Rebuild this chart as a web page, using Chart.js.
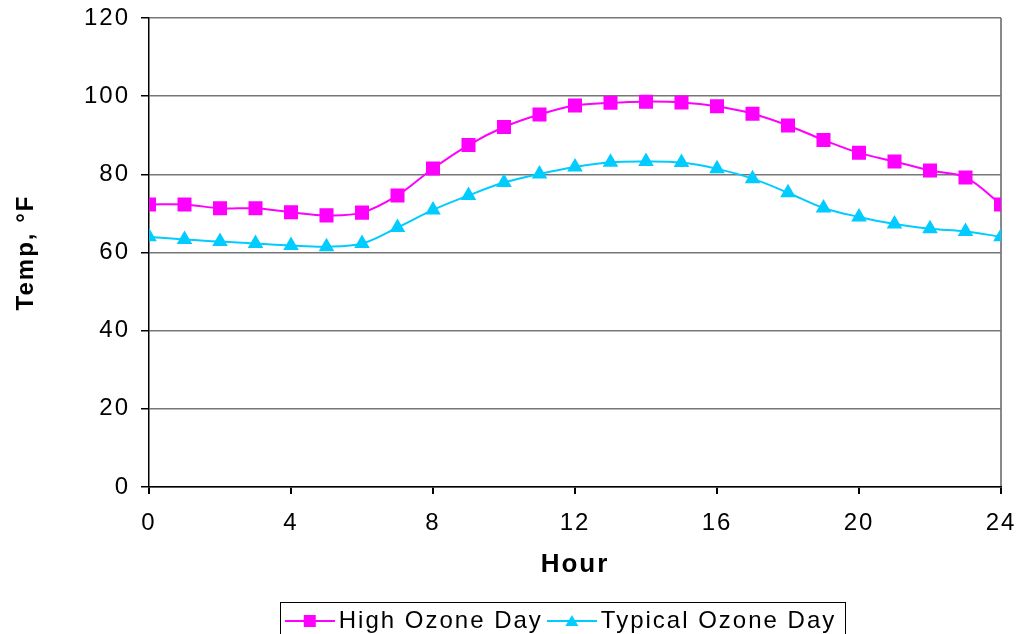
<!DOCTYPE html>
<html lang="en">
<head>
<meta charset="UTF-8" />
<title>Hourly Temperature</title>
<script src="https://cdn.jsdelivr.net/npm/chart.js"></script>
<style>
    html, body { margin: 0; padding: 0; background: #fff; }
    #wrap { width: 1016px; height: 634px; }
</style>
</head>
<body>
<div id="wrap"><canvas id="tempChart" width="1016" height="634"></canvas></div>
<script>
    const hours = [0, 1, 2, 3, 4, 5, 6, 7, 8, 9, 10, 11, 12, 13, 14, 15, 16, 17, 18, 19, 20, 21, 22, 23, 24];
    const highOzone = [72.3, 72.3, 71.3, 71.3, 70.3, 69.5, 70.2, 74.6, 81.5, 87.5, 92.1, 95.3, 97.6, 98.3, 98.6, 98.4, 97.4, 95.5, 92.5, 88.8, 85.5, 83.3, 81.0, 79.2, 72.3];
    const typicalOzone = [64.0, 63.3, 62.8, 62.3, 61.8, 61.5, 62.3, 66.4, 70.9, 74.6, 77.9, 80.1, 81.9, 83.1, 83.3, 83.0, 81.4, 78.9, 75.3, 71.4, 69.1, 67.3, 66.1, 65.4, 64.0];
    const yTicks = [0, 20, 40, 60, 80, 100, 120];

    const pink = '#ff00ff';
    const cyan = '#00ccff';
    const font = 'Liberation Sans, Arial, sans-serif';

    function legendIcon(color, style) {
        const c = document.createElement('canvas');
        c.width = 50; c.height = 16;
        const g = c.getContext('2d');
        g.strokeStyle = color; g.fillStyle = color; g.lineWidth = 2;
        g.beginPath(); g.moveTo(0, 8); g.lineTo(50, 8); g.stroke();
        g.beginPath();
        if (style === 'rect') {
            g.rect(19, 2, 12, 12);
        } else {
            g.moveTo(25, 2); g.lineTo(31.5, 13); g.lineTo(18.5, 13); g.closePath();
        }
        g.fill();
        return c;
    }

    // the original text is slightly letter-spaced
    const spacing = {
        id: 'spacing',
        beforeUpdate(chart) { chart.ctx.letterSpacing = '2px'; },
        beforeDraw(chart) { chart.ctx.letterSpacing = '2px'; }
    };

    // legend sits under the plot area and a bit lower than chart.js puts it
    const legendShift = {
        id: 'legendShift',
        afterLayout(chart) {
            const l = chart.legend;
            l.left += 64; l.right += 64;
            l.top += 9; l.bottom += 9;
        }
    };

    const legendBorder = {
        id: 'legendBorder',
        afterDraw(chart) {
            const boxes = chart.legend.legendHitBoxes;
            if (!boxes || !boxes.length) return;
            const left = Math.min(...boxes.map(b => b.left)) - 13;
            const right = Math.max(...boxes.map(b => b.left + b.width)) + 8;
            const mid = boxes[0].top + boxes[0].height / 2;
            const g = chart.ctx;
            g.save();
            g.strokeStyle = '#000';
            g.lineWidth = 1;
            g.strokeRect(Math.round(left) + 0.5, Math.round(mid - 19) + 0.5, Math.round(right - left), 60);
            g.restore();
        }
    };

    const ctx = document.getElementById('tempChart').getContext('2d');
    new Chart(ctx, {
        type: 'line',
        data: {
            datasets: [
                {
                    label: 'High Ozone Day',
                    data: hours.map((h, i) => ({ x: h, y: highOzone[i] })),
                    borderColor: pink, backgroundColor: pink,
                    borderWidth: 2, pointStyle: 'rect', pointRadius: 8.5,
                    tension: 0.35, icon: legendIcon(pink, 'rect')
                },
                {
                    label: 'Typical Ozone Day',
                    data: hours.map((h, i) => ({ x: h, y: typicalOzone[i] })),
                    borderColor: cyan, backgroundColor: cyan,
                    borderWidth: 2, pointStyle: 'triangle', pointRadius: 7,
                    tension: 0.35, icon: legendIcon(cyan, 'triangle')
                }
            ]
        },
        options: {
            responsive: false,
            animation: false,
            layout: { padding: { top: 18, right: 15, left: 0, bottom: 0 } },
            plugins: {
                tooltip: { enabled: false },
                legend: {
                    position: 'bottom',
                    labels: {
                        usePointStyle: true,
                        pointStyleWidth: 34,
                        color: '#000',
                        font: { family: font, size: 24 },
                        padding: 12,
                        generateLabels(chart) {
                            return chart.data.datasets.map((d, i) => ({
                                text: d.label, pointStyle: d.icon, fillStyle: d.borderColor,
                                strokeStyle: d.borderColor, datasetIndex: i, lineWidth: 0
                            }));
                        }
                    }
                }
            },
            scales: {
                x: {
                    type: 'linear', min: 0, max: 24,
                    afterFit: s => { s.paddingLeft = 0; s.paddingRight = 0; s.height = 101; },
                    ticks: { stepSize: 4, color: '#000', padding: 15, font: { family: font, size: 24 } },
                    grid: {
                        color: c => c.tick && c.tick.value === 24 ? '#888' : 'rgba(0,0,0,0)',
                        tickColor: '#000', tickLength: 7, lineWidth: 2
                    },
                    border: { color: '#000', width: 1.5 },
                    title: {
                        display: true, text: 'Hour', color: '#000',
                        font: { family: font, size: 26, weight: 'bold' },
                        padding: { top: 0, bottom: 8 }
                    }
                },
                y: {
                    min: 0, max: 120,
                    afterBuildTicks: axis => { axis.ticks = yTicks.map(v => ({ value: v })); },
                    afterFit: s => { s.paddingTop = 0; s.paddingBottom = 0; s.width = 149; },
                    ticks: { color: '#000', padding: 11, font: { family: font, size: 24 } },
                    grid: { color: '#777', tickColor: '#000', tickLength: 8, lineWidth: 1.5 },
                    border: { color: '#000', width: 1.5 },
                    title: {
                        display: true, text: 'Temp, °F', color: '#000',
                        font: { family: font, size: 24, weight: 'bold' },
                        padding: { top: 12, bottom: 0 }
                    }
                }
            }
        },
        plugins: [spacing, legendShift, legendBorder]
    });
</script>
</body>
</html>
